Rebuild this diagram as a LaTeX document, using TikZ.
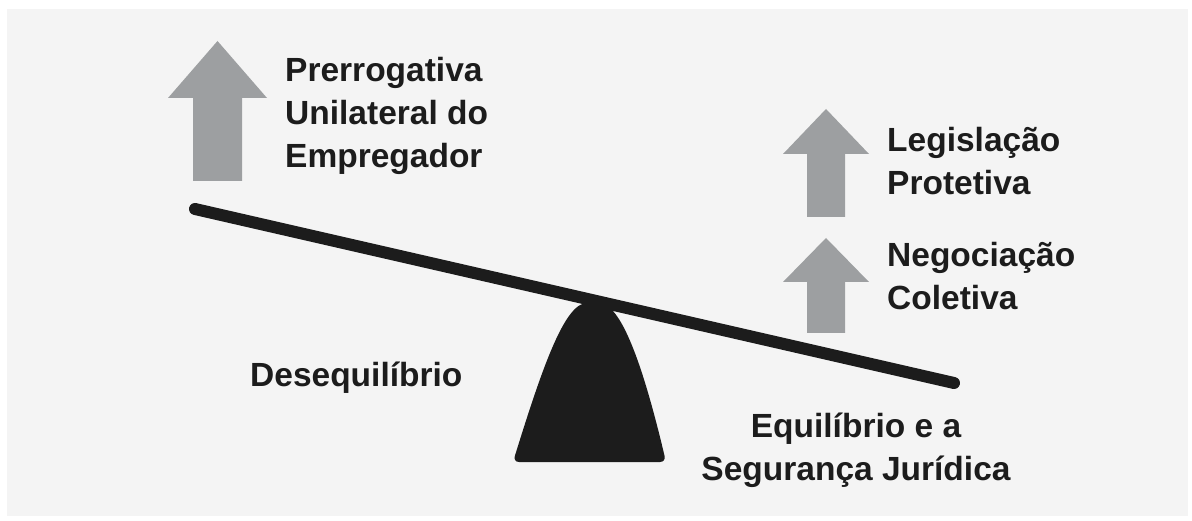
\documentclass[tikz,border=0pt]{standalone}
\usepackage{fontspec}
\setmainfont{Liberation Sans}
\usepackage{tikz}
\usetikzlibrary{positioning}

\definecolor{panelgray}{HTML}{F4F4F4}
\definecolor{arrowgray}{HTML}{9D9FA1}
\definecolor{inkblack}{HTML}{1C1C1C}

% up arrow: centre x, tip y, head base y, bottom y, half head, half shaft
\newcommand{\uparr}[6]{%
  \fill[arrowgray] (#1,#2) -- (#1+#5,#3) -- (#1+#6,#3) -- (#1+#6,#4)
    -- (#1-#6,#4) -- (#1-#6,#3) -- (#1-#5,#3) -- cycle;}

\begin{document}
\begin{tikzpicture}[x=1pt,y=-1pt,
    lbl/.style={font=\bfseries\fontsize{33.5}{43}\selectfont,text=inkblack,
                inner sep=0pt,align=left,anchor=base west}]
   \useasboundingbox (0,0) rectangle (1192,521);
   \fill[white] (0,0) rectangle (1192,521);
   \fill[panelgray] (7,9) rectangle (1188,516);

   % arrows
   \uparr{217.5}{41}{98}{181}{49.5}{24.5}
   \uparr{826}{109}{154}{217}{43}{19}
   \uparr{826}{238}{282}{333}{43}{19}

   % labels (base = last line)
   \node[lbl] (prerrog) at (285,168) {Prerrogativa\\Unilateral do\\Empregador};
   \node[lbl] (legisl) at (887,195) {Legislação\\Protetiva};
   \node[lbl] (negoc) at (887,310) {Negociação\\Coletiva};
   \node[lbl] (deseq) at (250,387) {Desequilíbrio};
   \node[lbl,align=center,anchor=base] (equil) at (856,480)
        {Equilíbrio e a\\Segurança Jurídica};

   % seesaw
   \coordinate (beamL) at (195,209);
   \coordinate (beamR) at (954,383);
   \fill[inkblack,rounded corners=6pt] (513,462)
        .. controls (543,365) and (565,303) .. (593,303)
        .. controls (621,303) and (643,365) .. (666,462) -- cycle;
   \draw[inkblack,line width=12pt,line cap=round] (beamL) -- (beamR);
\end{tikzpicture}
\end{document}
